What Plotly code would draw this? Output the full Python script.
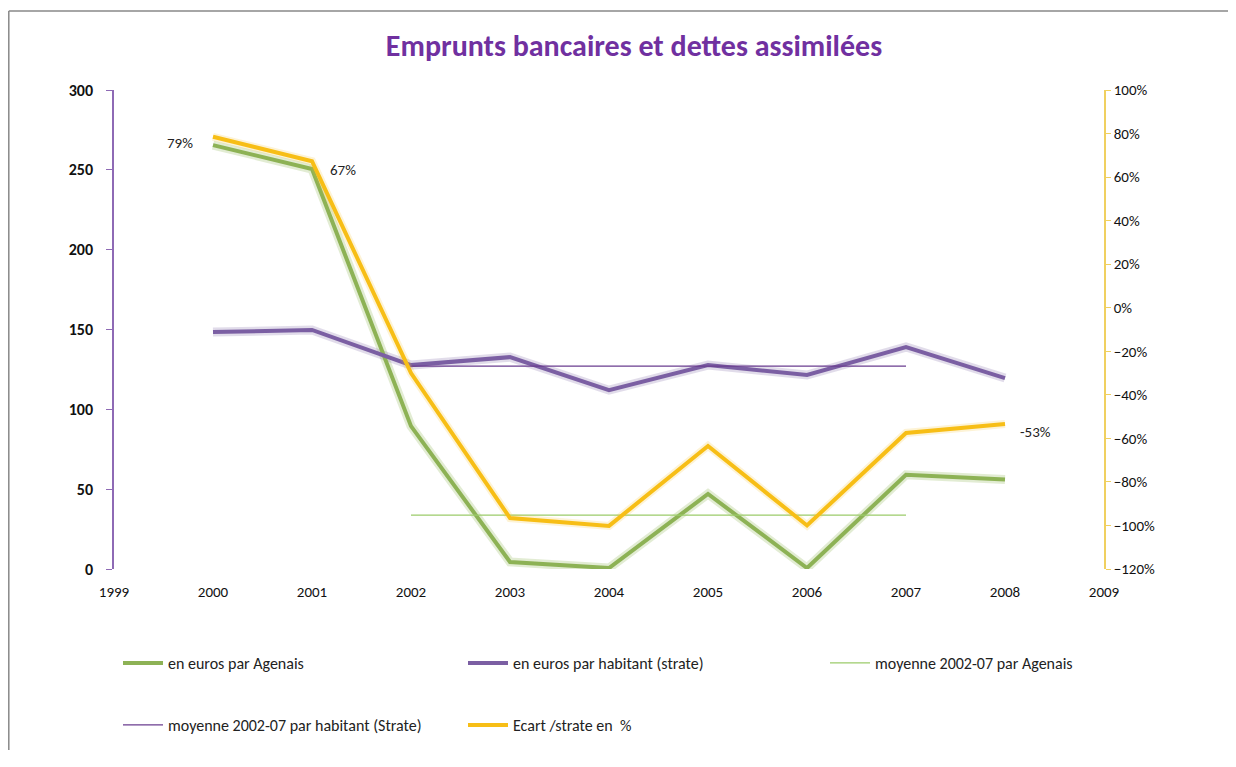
import plotly.graph_objects as go

years = [2000, 2001, 2002, 2003, 2004, 2005, 2006, 2007, 2008]
agenais = [265.5, 250.5, 89.5, 4.4, 0.6, 47, 0.6, 59, 56]
strate = [148.4, 149.7, 127.7, 132.7, 112, 127.7, 121.5, 139, 119.6]
ecart = [78.5, 67.3, -30, -96.6, -100.2, -63.5, -100, -57.5, -53.4]
ecart_labels = ["79%", "67%", "", "", "", "", "", "", "-53%"]
mean_years = [2002, 2007]
mean_agenais = [33.8, 33.8]
mean_strate = [127.0, 127.0]

GREEN = "#8DB255"
PURPLE = "#7B5FA3"
YELLOW = "#F7BE16"
FONT = "Carlito, Lato, Open Sans, sans-serif"

W, H = 1220, 742
L, T = 106, 82
pw, ph = 990, 479
R, B = W - L - pw, H - T - ph

fig = go.Figure()

# shadows
fig.add_trace(go.Scatter(x=years, y=agenais, mode="lines", line=dict(color="rgba(140,180,80,0.25)", width=9),
                         showlegend=False, hoverinfo="skip"))
fig.add_trace(go.Scatter(x=years, y=strate, mode="lines", line=dict(color="rgba(120,95,160,0.22)", width=9),
                         showlegend=False, hoverinfo="skip"))
fig.add_trace(go.Scatter(x=years, y=ecart, mode="lines", yaxis="y2", line=dict(color="rgba(245,190,30,0.18)", width=8),
                         showlegend=False, hoverinfo="skip"))

fig.add_trace(go.Scatter(x=years, y=agenais, mode="lines", name="en euros par Agenais",
                         line=dict(color=GREEN, width=4), legend="legend"))
fig.add_trace(go.Scatter(x=years, y=strate, mode="lines", name="en euros par habitant (strate)",
                         line=dict(color=PURPLE, width=4), legend="legend"))
fig.add_trace(go.Scatter(x=mean_years, y=mean_agenais, mode="lines", name="moyenne 2002-07 par Agenais",
                         line=dict(color="#9BCB6A", width=1.2), legend="legend3"))
fig.add_trace(go.Scatter(x=mean_years, y=mean_strate, mode="lines", name="moyenne 2002-07 par habitant (Strate)",
                         line=dict(color="#6A3D8F", width=1.2), legend="legend2"))
fig.add_trace(go.Scatter(x=years, y=ecart, mode="lines", yaxis="y2", name="Ecart /strate en  %",
                         line=dict(color=YELLOW, width=4), legend="legend2"))

# data labels on the Ecart series
label_shift = {0: (-18, -6, "right"), 1: (16, -9, "left"), 8: (13, -8, "left")}
for i, lab in enumerate(ecart_labels):
    if lab:
        xs, ys, anc = label_shift[i]
        fig.add_annotation(x=years[i], y=ecart[i], yref="y2", text=lab, showarrow=False,
                           xanchor=anc, yanchor="middle", xshift=xs, yshift=ys,
                           font=dict(family=FONT, size=15, color="#222"))

legend_common = dict(orientation="h", xref="container", yref="container", xanchor="left", yanchor="middle",
                     entrywidth=290, entrywidthmode="pixels", font=dict(family=FONT, size=16, color="#222"),
                     bgcolor="rgba(0,0,0,0)", itemwidth=40)

top_y = (ph + T - 3) / ph
left_x = (0.8 - L) / pw
fig.update_layout(
    width=W, height=H,
    paper_bgcolor="white", plot_bgcolor="white",
    margin=dict(l=L, r=R, t=T, b=B),
    title=dict(text="<b>Emprunts bancaires et dettes assimilées</b>", x=(L + 520) / W, xanchor="center",
               y=1 - 37 / H, yanchor="middle", font=dict(family=FONT, size=30, color="#7030A0")),
    xaxis=dict(range=[1999, 2009], dtick=1, tick0=1999, showgrid=False, zeroline=False, showline=False,
               ticks="", tickfont=dict(family=FONT, size=15, color="#111"), ticklabelstandoff=12),
    yaxis=dict(range=[0, 300], dtick=50, showgrid=False, zeroline=False, showline=True, linecolor="#8E6AB5",
               linewidth=1.5, ticks="outside", ticklen=6, tickcolor="#8E6AB5",
               tickfont=dict(family=FONT, size=16, color="#111", weight=600), ticklabelstandoff=10),
    yaxis2=dict(range=[-120, 100], dtick=20, overlaying="y", side="right", showgrid=False, zeroline=False,
                showline=True, linecolor="#F0D060", linewidth=1.5, ticks="outside", ticklen=5, tickcolor="#F0D060",
                ticksuffix="%", tickfont=dict(family=FONT, size=15, color="#111")),
    legend=dict(**legend_common, x=110 / W, y=1 - 655 / H),
    legend3=dict(**legend_common, x=817 / W, y=1 - 655 / H),
    legend2=dict(**legend_common, x=110 / W, y=1 - 717 / H),
    shapes=[
        dict(type="line", xref="paper", yref="paper", x0=left_x, x1=left_x,
             y0=-B / ph, y1=top_y, line=dict(color="#888888", width=1.5)),
        dict(type="line", xref="paper", yref="paper", x0=left_x, x1=(W - L) / pw,
             y0=top_y, y1=top_y, line=dict(color="#888888", width=1.5)),
    ],
)

fig.write_html("out.html")
